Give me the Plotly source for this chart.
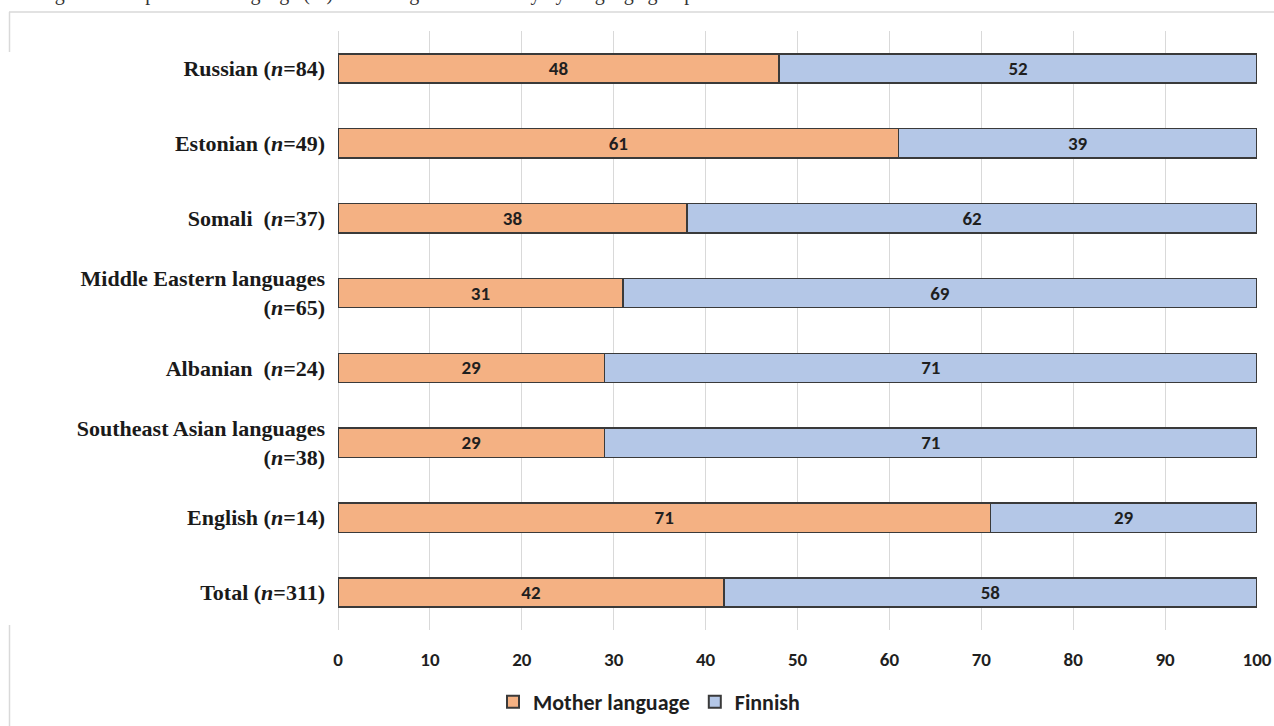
import plotly.graph_objects as go

# Language groups, top to bottom
groups = [
    "Russian (<i>n</i>=84)",
    "Estonian (<i>n</i>=49)",
    "Somali\u00a0\u00a0(<i>n</i>=37)",
    "Middle Eastern languages<br>(<i>n</i>=65)",
    "Albanian\u00a0\u00a0(<i>n</i>=24)",
    "Southeast Asian languages<br>(<i>n</i>=38)",
    "English (<i>n</i>=14)",
    "Total (<i>n</i>=311)",
]
mother_language = [48, 61, 38, 31, 29, 29, 71, 42]
finnish = [52, 39, 62, 69, 71, 71, 29, 58]
x_ticks = [0, 10, 20, 30, 40, 50, 60, 70, 80, 90, 100]

W, H = 1274, 726
L, R, T, B = 338, 17, 31, 96
PW, PH = W - L - R, H - T - B


def px_x(p):
    return (p - L) / PW


def px_y(p):
    return (H - B - p) / PH


sans = "Carlito, Liberation Sans Narrow, Open Sans"
label_font = dict(family=sans, size=19, color="#1f1f1f", weight="bold")
outline = dict(color="#3A3A3A", width=1.5)

fig = go.Figure()
fig.add_trace(go.Bar(
    y=groups, x=mother_language, orientation="h", name="Mother language",
    marker=dict(color="#F4B183", line=outline),
    text=[str(v) for v in mother_language], textposition="inside",
    insidetextanchor="middle", textfont=label_font,
))
fig.add_trace(go.Bar(
    y=groups, x=finnish, orientation="h", name="Finnish",
    marker=dict(color="#B4C7E7", line=outline),
    text=[str(v) for v in finnish], textposition="inside",
    insidetextanchor="middle", textfont=label_font,
))

# light frame around the chart area
frame = dict(type="line", xref="paper", yref="paper", line=dict(color="#D9D9D9", width=1.5))
shapes = [
    dict(frame, x0=px_x(9), x1=px_x(1280), y0=px_y(12), y1=px_y(12)),
    dict(frame, x0=px_x(9.5), x1=px_x(9.5), y0=px_y(12), y1=px_y(52)),
    dict(frame, x0=px_x(9.5), x1=px_x(9.5), y0=px_y(625), y1=px_y(730)),
]

fig.update_layout(
    width=W, height=H,
    margin=dict(l=L, r=R, t=T, b=B, autoexpand=False),
    paper_bgcolor="white", plot_bgcolor="white",
    barmode="stack", bargap=0.61,
    showlegend=True,
    legend=dict(
        orientation="h", x=px_x(649), xanchor="center", y=px_y(702), yanchor="middle",
        font=dict(family=sans, size=22, color="#1f1f1f", weight="bold"),
        itemsizing="constant", traceorder="normal", itemwidth=30,
    ),
    xaxis=dict(
        range=[0, 100], tickvals=x_ticks, ticktext=[str(v) for v in x_ticks],
        showgrid=True, gridcolor="#D9D9D9", gridwidth=1,
        zeroline=True, zerolinecolor="#D9D9D9", zerolinewidth=1,
        showline=False, ticks="", ticklabelstandoff=16,
        tickfont=dict(family=sans, size=19, color="#1f1f1f", weight="bold"),
    ),
    yaxis=dict(
        autorange="reversed", showgrid=False, zeroline=False, showline=False,
        ticks="", ticklabelstandoff=12,
        tickfont=dict(family="Liberation Serif, Times New Roman, serif", size=22, color="#1a1a1a", weight="bold"),
    ),
    shapes=shapes,
    annotations=[dict(
        text="Figure 1. Respondents' language (%) in a bilingual web survey by language groups.",
        xref="paper", yref="paper", x=px_x(709), y=px_y(7), xanchor="right", yanchor="bottom",
        showarrow=False, font=dict(family="Liberation Serif, Times New Roman, serif", size=20, color="#333"),
    )],
)

fig.write_html("out.html")
